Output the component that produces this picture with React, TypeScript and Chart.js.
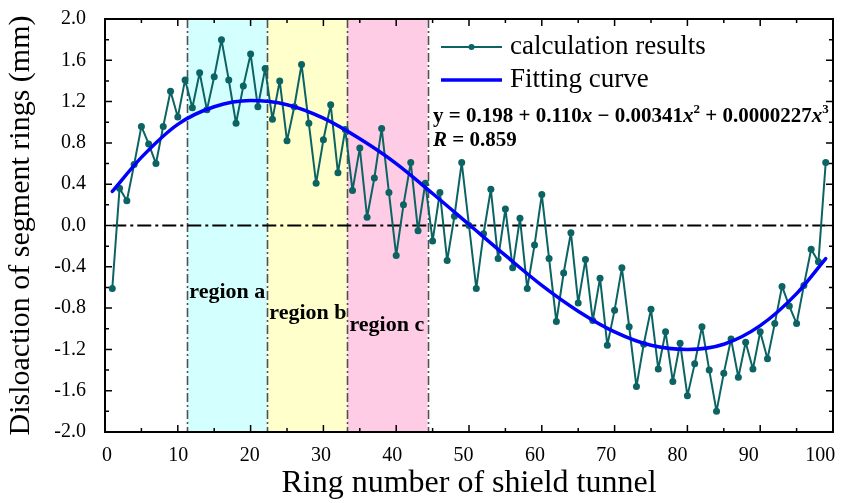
import React, { useEffect, useRef } from "react";
import { Chart, registerables } from "chart.js";

Chart.register(...registerables);

// ---------------- data ----------------
const ringNumbers = [
  1, 2, 3, 4, 5, 6, 7, 8, 9, 10, 11, 12, 13, 14, 15, 16, 17, 18, 19, 20,
  21, 22, 23, 24, 25, 26, 27, 28, 29, 30, 31, 32, 33, 34, 35, 36, 37, 38, 39, 40,
  41, 42, 43, 44, 45, 46, 47, 48, 49, 50, 51, 52, 53, 54, 55, 56, 57, 58, 59, 60,
  61, 62, 63, 64, 65, 66, 67, 68, 69, 70, 71, 72, 73, 74, 75, 76, 77, 78, 79, 80,
  81, 82, 83, 84, 85, 86, 87, 88, 89, 90, 91, 92, 93, 94, 95, 96, 97, 98, 99,
];

const calculationResults = [
  -0.61, 0.36, 0.24, 0.59, 0.96, 0.79, 0.6, 0.96, 1.3, 1.05,
  1.41, 1.14, 1.48, 1.12, 1.44, 1.8, 1.41, 0.99, 1.35, 1.66,
  1.15, 1.52, 1.03, 1.4, 0.82, 1.15, 1.56, 0.99, 0.41, 0.83,
  1.17, 0.51, 0.93, 0.34, 0.75, 0.08, 0.46, 0.94, 0.32, -0.29,
  0.2, 0.61, -0.05, 0.41, -0.15, 0.32, -0.34, 0.09, 0.61, 0.0,
  -0.61, -0.08, 0.35, -0.32, 0.16, -0.41, 0.07, -0.61, -0.19, 0.3,
  -0.32, -0.93, -0.46, -0.07, -0.75, -0.33, -0.92, -0.51, -1.16, -0.82,
  -0.41, -0.98, -1.56, -1.15, -0.81, -1.39, -1.03, -1.51, -1.14, -1.65,
  -1.34, -0.98, -1.4, -1.8, -1.43, -1.1, -1.47, -1.13, -1.39, -1.03,
  -1.29, -0.95, -0.59, -0.78, -0.95, -0.58, -0.23, -0.35, 0.61,
];

const fitRings = [1, 5, 10, 15, 20, 25, 30, 35, 40, 45, 50, 55, 60, 65, 70, 75, 80, 85, 90, 95, 99];
const fitValues = [
  0.33, 0.66, 0.98, 1.15, 1.21, 1.17, 1.04, 0.84, 0.6, 0.31, 0.01,
  -0.29, -0.58, -0.83, -1.03, -1.16, -1.2, -1.15, -0.97, -0.66, -0.32,
];

const referenceLineX = [1, 99];
const referenceLineY = [0, 0];

const xTickValues = [0, 10, 20, 30, 40, 50, 60, 70, 80, 90, 100];
const xMinorTickValues = [5, 15, 25, 35, 45, 55, 65, 75, 85, 95];
const yTickValues = [-2, -1.6, -1.2, -0.8, -0.4, 0, 0.4, 0.8, 1.2, 1.6, 2];
const yMinorTickValues = [-1.8, -1.4, -1.0, -0.6, -0.2, 0.2, 0.6, 1.0, 1.4, 1.8];

const regionBounds = [11.3, 22.3, 33.3, 44.3];
const regionNames = ["region a", "region b", "region c"];
const regionLabelValues = [-0.65, -0.85, -0.97];

const legendLabels = ["calculation results", "Fitting curve"];
const fitCoefficients = ["0.198", "0.110", "0.00341", "0.0000227"];
const correlationR = "0.859";

// ---------------- styles ----------------
const SERIF = '"Liberation Serif", "Times New Roman", serif';
const TEAL = "#0b6363";
const BLUE = "#0000ff";
const REGION_COLORS = ["#d4ffff", "#ffffcc", "#ffcce6"];

const decorPlugin = {
  id: "decor",
  beforeDatasetsDraw(chart: any) {
    const { ctx, chartArea: a, scales } = chart;
    const x = scales.x;
    const y = scales.y;
    ctx.save();
    for (let i = 0; i < regionNames.length; i++) {
      const x0 = x.getPixelForValue(regionBounds[i]);
      const x1 = x.getPixelForValue(regionBounds[i + 1]);
      ctx.fillStyle = REGION_COLORS[i];
      ctx.fillRect(x0, a.top, x1 - x0, a.bottom - a.top);
    }
    ctx.strokeStyle = "#505050";
    ctx.lineWidth = 1.6;
    ctx.setLineDash([9, 3, 2, 3]);
    regionBounds.forEach((b) => {
      const px = Math.round(x.getPixelForValue(b)) + 0.5;
      ctx.beginPath();
      ctx.moveTo(px, a.top);
      ctx.lineTo(px, a.bottom);
      ctx.stroke();
    });
    ctx.setLineDash([]);
    ctx.fillStyle = "#000";
    ctx.font = `bold 22px ${SERIF}`;
    ctx.textAlign = "left";
    ctx.textBaseline = "middle";
    regionNames.forEach((n, i) => {
      ctx.fillText(n, x.getPixelForValue(regionBounds[i]) + 2, y.getPixelForValue(regionLabelValues[i]));
    });
    ctx.restore();
  },
  afterDraw(chart: any) {
    const { ctx, chartArea: a, scales } = chart;
    const x = scales.x;
    const y = scales.y;
    ctx.save();
    // frame
    ctx.strokeStyle = "#000";
    ctx.lineWidth = 2;
    ctx.strokeRect(a.left, a.top, a.right - a.left, a.bottom - a.top);
    // inward ticks
    ctx.lineWidth = 1.5;
    const drawX = (v: number, len: number) => {
      const px = x.getPixelForValue(v);
      ctx.beginPath();
      ctx.moveTo(px, a.bottom);
      ctx.lineTo(px, a.bottom - len);
      ctx.moveTo(px, a.top);
      ctx.lineTo(px, a.top + len);
      ctx.stroke();
    };
    const drawY = (v: number, len: number) => {
      const py = y.getPixelForValue(v);
      ctx.beginPath();
      ctx.moveTo(a.left, py);
      ctx.lineTo(a.left + len, py);
      ctx.moveTo(a.right, py);
      ctx.lineTo(a.right - len, py);
      ctx.stroke();
    };
    xTickValues.forEach((v) => drawX(v, 7));
    xMinorTickValues.forEach((v) => drawX(v, 4));
    yTickValues.forEach((v) => drawY(v, 7));
    yMinorTickValues.forEach((v) => drawY(v, 4));

    // legend
    const lx0 = a.left + 336;
    const lx1 = a.left + 397;
    const ly = [a.top + 28, a.top + 61];
    ctx.lineWidth = 2;
    ctx.strokeStyle = TEAL;
    ctx.beginPath();
    ctx.moveTo(lx0, ly[0]);
    ctx.lineTo(lx1, ly[0]);
    ctx.stroke();
    ctx.fillStyle = TEAL;
    ctx.beginPath();
    ctx.arc((lx0 + lx1) / 2, ly[0], 3, 0, Math.PI * 2);
    ctx.fill();
    ctx.lineWidth = 3.5;
    ctx.strokeStyle = BLUE;
    ctx.beginPath();
    ctx.moveTo(lx0, ly[1]);
    ctx.lineTo(lx1, ly[1]);
    ctx.stroke();
    ctx.fillStyle = "#000";
    ctx.font = `27px ${SERIF}`;
    ctx.textAlign = "left";
    ctx.textBaseline = "middle";
    ctx.fillText(legendLabels[0], lx1 + 8, ly[0]);
    ctx.fillText(legendLabels[1], lx1 + 8, ly[1]);

    // equation
    const bold = `bold 21px ${SERIF}`;
    const boldIt = `italic bold 21px ${SERIF}`;
    const sup = `bold 13px ${SERIF}`;
    const ey = a.top + 98;
    const parts: [string, string, number][] = [
      ["y = " + fitCoefficients[0] + " + " + fitCoefficients[1], bold, 0],
      ["x", boldIt, 0],
      [" \u2212 " + fitCoefficients[2], bold, 0],
      ["x", boldIt, 0],
      ["2", sup, -7],
      [" + " + fitCoefficients[3], bold, 0],
      ["x", boldIt, 0],
      ["3", sup, -7],
    ];
    let cx = a.left + 328;
    parts.forEach(([t, f, dy]) => {
      ctx.font = f;
      ctx.fillText(t, cx, ey + dy);
      cx += ctx.measureText(t).width;
    });
    const ry = a.top + 122;
    let rx = a.left + 328;
    ctx.font = boldIt;
    ctx.fillText("R", rx, ry);
    rx += ctx.measureText("R").width;
    ctx.font = bold;
    ctx.fillText(" = " + correlationR, rx, ry);
    ctx.restore();
  },
};

const noScalePadding = (s: any) => {
  s.paddingTop = 0;
  s.paddingBottom = 0;
  s.paddingLeft = 0;
  s.paddingRight = 0;
};

export default function App() {
  const canvasRef = useRef<HTMLCanvasElement | null>(null);

  useEffect(() => {
    if (!canvasRef.current) return;
    const chart = new Chart(canvasRef.current, {
      type: "line",
      data: {
        datasets: [
          {
            label: legendLabels[1],
            data: fitRings.map((r, i) => ({ x: r, y: fitValues[i] })),
            borderColor: BLUE,
            borderWidth: 3.5,
            borderJoinStyle: "round",
            borderCapStyle: "round",
            pointRadius: 0,
            cubicInterpolationMode: "monotone",
            fill: false,
          },
          {
            label: legendLabels[0],
            data: ringNumbers.map((r, i) => ({ x: r, y: calculationResults[i] })),
            borderColor: TEAL,
            backgroundColor: TEAL,
            borderWidth: 2,
            borderJoinStyle: "round",
            pointRadius: 3.5,
            pointBorderWidth: 0,
            pointBackgroundColor: TEAL,
            tension: 0,
            fill: false,
          },
          {
            label: "zero",
            data: referenceLineX.map((r, i) => ({ x: r, y: referenceLineY[i] })),
            borderColor: "#000",
            borderWidth: 2,
            borderDash: [14, 4, 3, 4],
            pointRadius: 0,
            fill: false,
          },
        ],
      },
      options: {
        animation: false,
        responsive: true,
        maintainAspectRatio: false,
        layout: { padding: { top: 19, right: 22, left: 0, bottom: 0 } },
        plugins: { legend: { display: false }, tooltip: { enabled: false } },
        scales: {
          x: {
            type: "linear",
            min: 0,
            max: 100,
            display: false,
          },
          xLabels: {
            type: "linear",
            position: "bottom",
            min: -0.28,
            max: 101.8,
            grid: { display: false, drawTicks: false },
            border: { display: false },
            afterBuildTicks: (s: any) => {
              s.ticks = xTickValues.map((v) => ({ value: v }));
            },
            afterFit: (s: any) => {
              s.height = 71;
              noScalePadding(s);
            },
            ticks: {
              color: "#000",
              padding: 12,
              maxRotation: 0,
              font: { family: SERIF, size: 20 },
              callback: (v: any) => String(v),
            },
            title: {
              display: true,
              text: "Ring number of shield tunnel",
              color: "#000",
              font: { family: SERIF, size: 32 },
              padding: { top: 0, bottom: 0 },
            },
          },
          y: {
            type: "linear",
            min: -2,
            max: 2,
            grid: { display: false, drawTicks: false },
            border: { display: false },
            afterBuildTicks: (s: any) => {
              s.ticks = yTickValues.map((v) => ({ value: v }));
            },
            afterFit: (s: any) => {
              s.width = 105;
              noScalePadding(s);
            },
            ticks: {
              color: "#000",
              padding: 19,
              font: { family: SERIF, size: 20 },
              callback: (v: any) => (Math.abs(Number(v)) < 1e-9 ? "0.0" : Number(v).toFixed(1)),
            },
            title: {
              display: true,
              text: "Disloaction of segment rings (mm)",
              color: "#000",
              font: { family: SERIF, size: 30 },
              padding: { top: 3, bottom: 0 },
            },
          },
        },
      },
      plugins: [decorPlugin],
    });
    return () => chart.destroy();
  }, []);

  return (
    <div style={{ position: "absolute", left: 0, top: 0, width: 855, height: 503, background: "#fff" }}>
      <canvas ref={canvasRef} />
    </div>
  );
}
